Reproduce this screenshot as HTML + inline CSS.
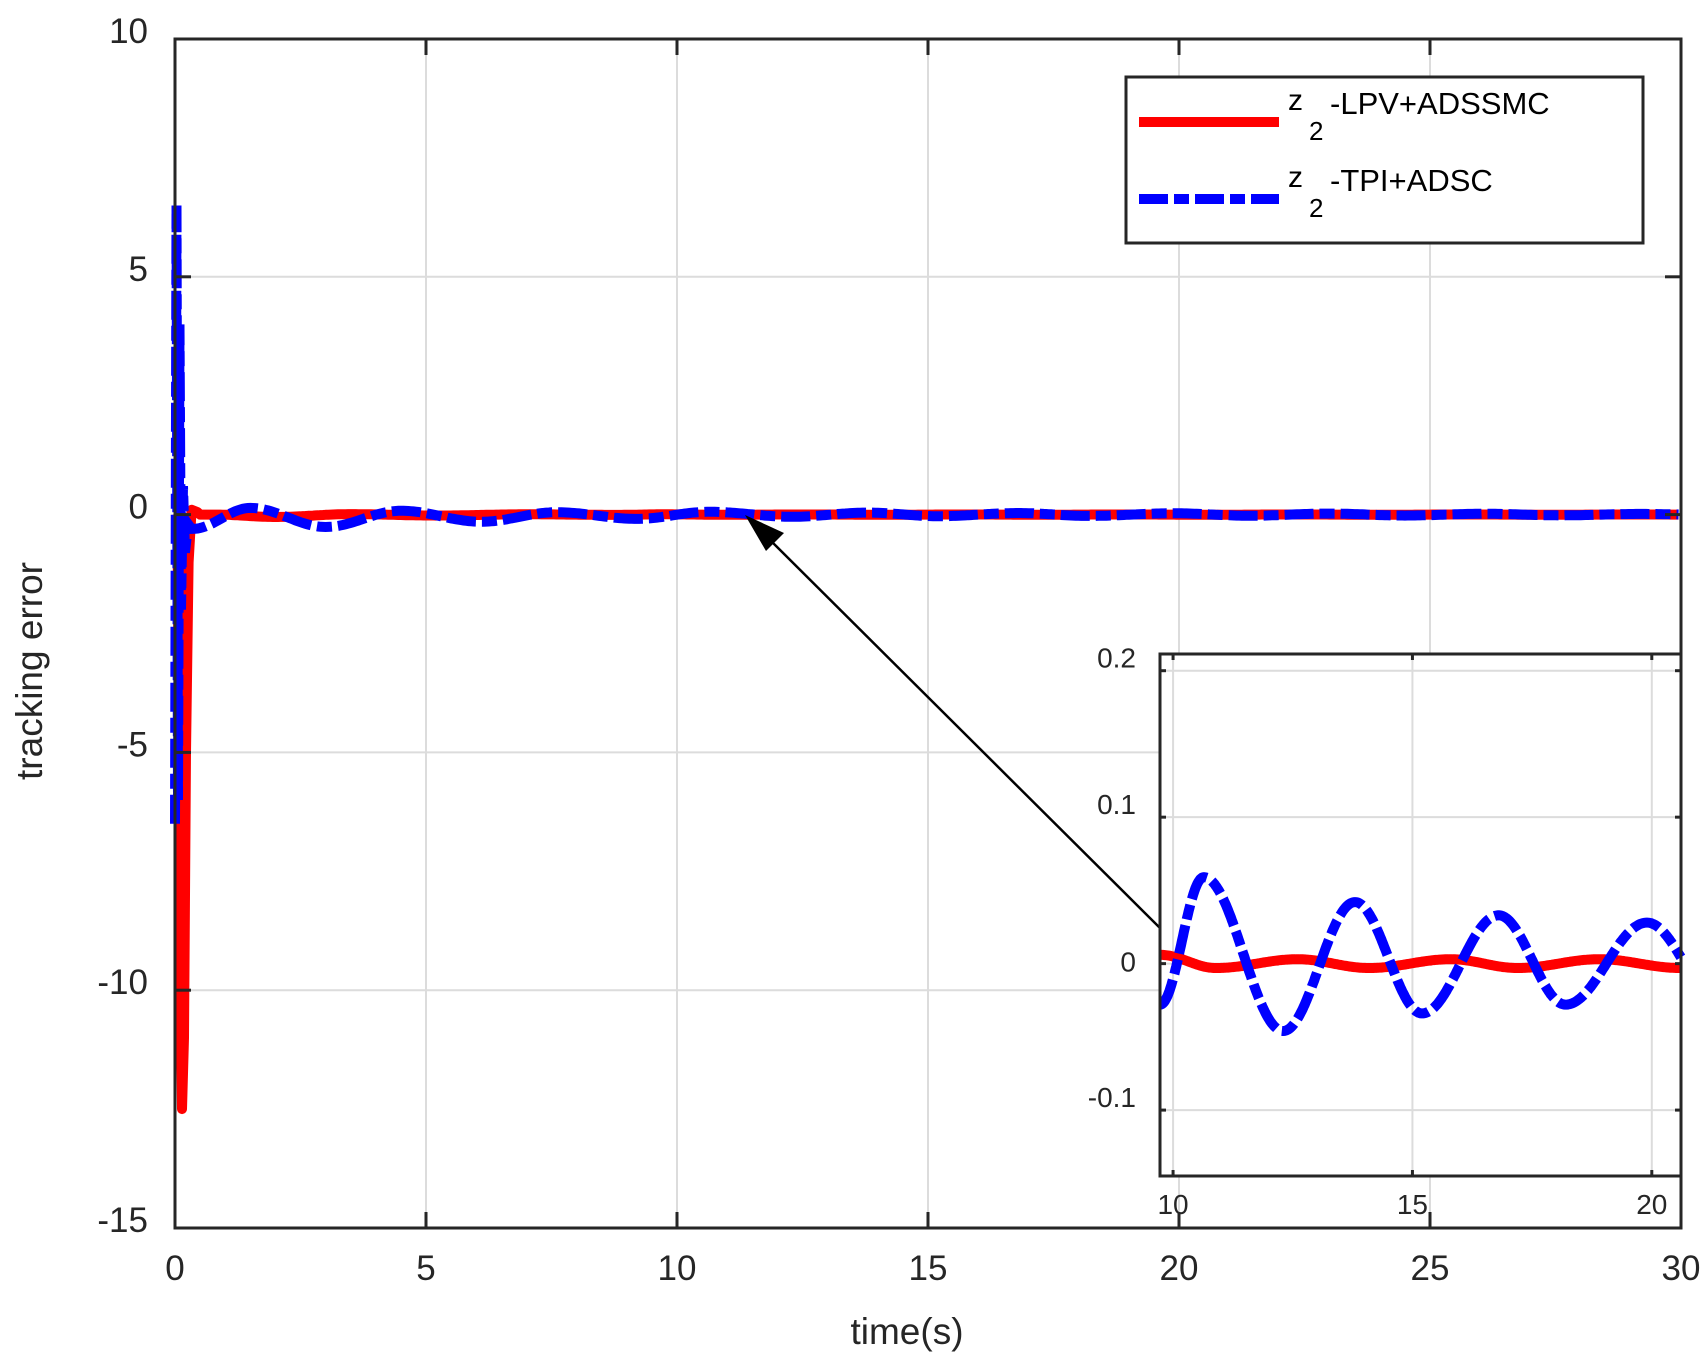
<!DOCTYPE html>
<html><head><meta charset="utf-8"><style>
html,body{margin:0;padding:0;background:#fff;}
svg{display:block;font-family:"Liberation Sans",Arial,sans-serif;}
</style></head><body>
<svg id="s" width="1704" height="1368" viewBox="0 0 1704 1368" xmlns="http://www.w3.org/2000/svg">
<rect width="1704" height="1368" fill="#fff"/>
<g id="maingrid" stroke="#dcdcdc" stroke-width="2"></g>
<g id="mainlines"></g>
<g id="mainaxes" stroke="#262626" stroke-width="3" fill="none"></g>
<g id="mainlabels" fill="#262626" font-size="35"></g>
<text x="907" y="1344" font-size="37" fill="#262626" text-anchor="middle">time(s)</text>
<text transform="translate(42,671) rotate(-90)" font-size="37" fill="#262626" text-anchor="middle">tracking error</text>
<!-- legend -->
<rect x="1126" y="77" width="517" height="166" fill="#fff" stroke="#262626" stroke-width="3"/>
<line x1="1139" y1="122" x2="1279" y2="122" stroke="#ff0000" stroke-width="10"/>
<line x1="1139" y1="199" x2="1279" y2="199" stroke="#0000ff" stroke-width="10" stroke-dasharray="29 6 15 6"/>
<g font-size="31" fill="#000">
<text x="1288" y="110" font-size="30">z</text><text x="1309" y="140" font-size="26">2</text><text x="1330" y="114">-LPV+ADSSMC</text>
<text x="1288" y="187" font-size="30">z</text><text x="1309" y="217" font-size="26">2</text><text x="1330" y="191">-TPI+ADSC</text>
</g>
<!-- arrow -->
<line x1="1160" y1="928" x2="760" y2="530" stroke="#000" stroke-width="2.5"/>
<polygon points="745,515 784,533 766,551" fill="#000"/>
<!-- inset -->
<rect x="1160" y="654" width="521" height="522" fill="#fff"/>
<g id="insgrid" stroke="#dcdcdc" stroke-width="2"></g>
<g id="inslines"></g>
<g id="insaxes" stroke="#262626" stroke-width="3" fill="none"></g>
<g id="inslabels" fill="#262626" font-size="28"></g>
</svg>
<script>
var NS="http://www.w3.org/2000/svg";
function el(p,t,a,txt){var e=document.createElementNS(NS,t);for(var k in a)e.setAttribute(k,a[k]);if(txt!==undefined)e.textContent=txt;document.getElementById(p).appendChild(e);return e;}
var L=175,R=1681,T=39,B=1228;
function mx(t){return L+(R-L)*t/30;}
function my(v){return T+(B-T)*(10-v)/25;}
var iL=1160,iR=1681,iT=654,iB=1176,ix0=9.727,ix1=20.61,iy0=-0.145,iy1=0.2114;
function ixf(t){return iL+(iR-iL)*(t-ix0)/(ix1-ix0);}
function iyf(v){return iT+(iB-iT)*(iy1-v)/(iy1-iy0);}
[5,10,15,20,25].forEach(function(t){el("maingrid","line",{x1:mx(t),y1:T,x2:mx(t),y2:B});});
[5,0,-5,-10].forEach(function(v){el("maingrid","line",{x1:L,y1:my(v),x2:R,y2:my(v)});});
function pw(ext,t){
  if(t<=ext[0][0])return ext[0][1];
  for(var i=0;i<ext.length-1;i++){var a=ext[i],b=ext[i+1];
    if(t<=b[0]){var u=(t-a[0])/(b[0]-a[0]);return a[1]+(b[1]-a[1])*(1-Math.cos(Math.PI*u))/2;}}
  return ext[ext.length-1][1];
}
var blueExt=[[0.35,-0.3],[1.5,0.14],[3.0,-0.26],[4.5,0.08],[6.1,-0.15],[7.6,0.05],[9.2,-0.09],[10.64,0.059],[12.3,-0.046],[13.8,0.042],[15.2,-0.034],[16.8,0.033],[18.2,-0.028],[19.9,0.028],[21.4,-0.024],[23.0,0.022],[24.5,-0.02],[26.1,0.018],[27.6,-0.016],[29.2,0.014],[30.8,-0.012]];
var redExt=[[0.8,0.0],[2.0,-0.05],[3.5,0.01],[5.2,-0.02],[7,0.006],[8.8,-0.006],[9.73,0.006],[10.9,-0.003],[12.6,0.003],[14.1,-0.003],[15.8,0.003],[17.2,-0.003],[18.9,0.003],[20.6,-0.003],[22.3,0.003],[24,-0.003],[25.7,0.003],[27.4,-0.003],[29.1,0.003],[30.8,-0.003]];
function path(pts){return pts.map(function(p,i){return (i?"L":"M")+p[0].toFixed(1)+" "+p[1].toFixed(1);}).join("");}
var rp=[[0,0],[0.05,0],[0.1,-9],[0.14,-12.5],[0.18,-11],[0.22,-5],[0.27,-1],[0.33,0.1],[0.45,0.05]];
var rp2=rp.map(function(p){return [mx(p[0]),my(p[1])];});
for(var t=0.5;t<=30;t+=0.05){rp2.push([mx(t),my(pw(redExt,t))]);}
el("mainlines","path",{d:path(rp2),fill:"none",stroke:"#ff0000","stroke-width":10,"stroke-linejoin":"round"});
var bp=[[0.0,-6.5],[0.03,6.5],[0.06,-6.0],[0.09,4.0],[0.12,-2.0],[0.16,0.6],[0.2,-0.8],[0.26,-0.2],[0.33,-0.3]];
var bp2=bp.map(function(p){return [mx(p[0]),my(p[1])];});
for(var t=0.4;t<=30;t+=0.05){bp2.push([mx(t),my(pw(blueExt,t))]);}
el("mainlines","path",{d:path(bp2),fill:"none",stroke:"#0000ff","stroke-width":10,"stroke-dasharray":"29 6 15 6"});
el("mainaxes","rect",{x:L,y:T,width:R-L,height:B-T});
[0,5,10,15,20,25,30].forEach(function(t){var x=mx(t);
  el("mainaxes","line",{x1:x,y1:B,x2:x,y2:B-16});el("mainaxes","line",{x1:x,y1:T,x2:x,y2:T+16});
  el("mainlabels","text",{x:x,y:1280,"text-anchor":"middle"},String(t));});
[10,5,0,-5,-10,-15].forEach(function(v){var y=my(v);
  el("mainaxes","line",{x1:L,y1:y,x2:L+16,y2:y});el("mainaxes","line",{x1:R,y1:y,x2:R-16,y2:y});
  el("mainlabels","text",{x:148,y:y+4,"text-anchor":"end"},String(v));});
[10,15,20].forEach(function(t){el("insgrid","line",{x1:ixf(t),y1:iT,x2:ixf(t),y2:iB});});
[0.2,0.1,0,-0.1].forEach(function(v){el("insgrid","line",{x1:iL,y1:iyf(v),x2:iR,y2:iyf(v)});});
var ir=[],ib=[];
for(var t=ix0;t<=ix1+0.001;t+=0.02){ir.push([ixf(t),iyf(pw(redExt,t))]);}
var insBlue=[[9.73,-0.028],[10.64,0.059],[12.3,-0.046],[13.8,0.042],[15.2,-0.034],[16.8,0.033],[18.2,-0.028],[19.9,0.028],[21.4,-0.024]];
for(var t=ix0;t<=ix1+0.001;t+=0.02){ib.push([ixf(t),iyf(pw(insBlue,t))]);}
el("inslines","path",{d:path(ir),fill:"none",stroke:"#ff0000","stroke-width":10});
el("inslines","path",{d:path(ib),fill:"none",stroke:"#0000ff","stroke-width":10,"stroke-dasharray":"29 6 15 6"});
el("insaxes","rect",{x:iL,y:iT,width:iR-iL,height:iB-iT});
[10,15,20].forEach(function(t){var x=ixf(t);
  el("insaxes","line",{x1:x,y1:iB,x2:x,y2:iB-6});el("insaxes","line",{x1:x,y1:iT,x2:x,y2:iT+6});
  el("inslabels","text",{x:x,y:1214,"text-anchor":"middle"},String(t));});
[0.2,0.1,0,-0.1].forEach(function(v){var y=iyf(v);
  el("insaxes","line",{x1:iL,y1:y,x2:iL+6,y2:y});el("insaxes","line",{x1:iR,y1:y,x2:iR-6,y2:y});
  el("inslabels","text",{x:1136,y:(v===0?y+8:y-3),"text-anchor":"end"},String(v));});
</script>
</body></html>
